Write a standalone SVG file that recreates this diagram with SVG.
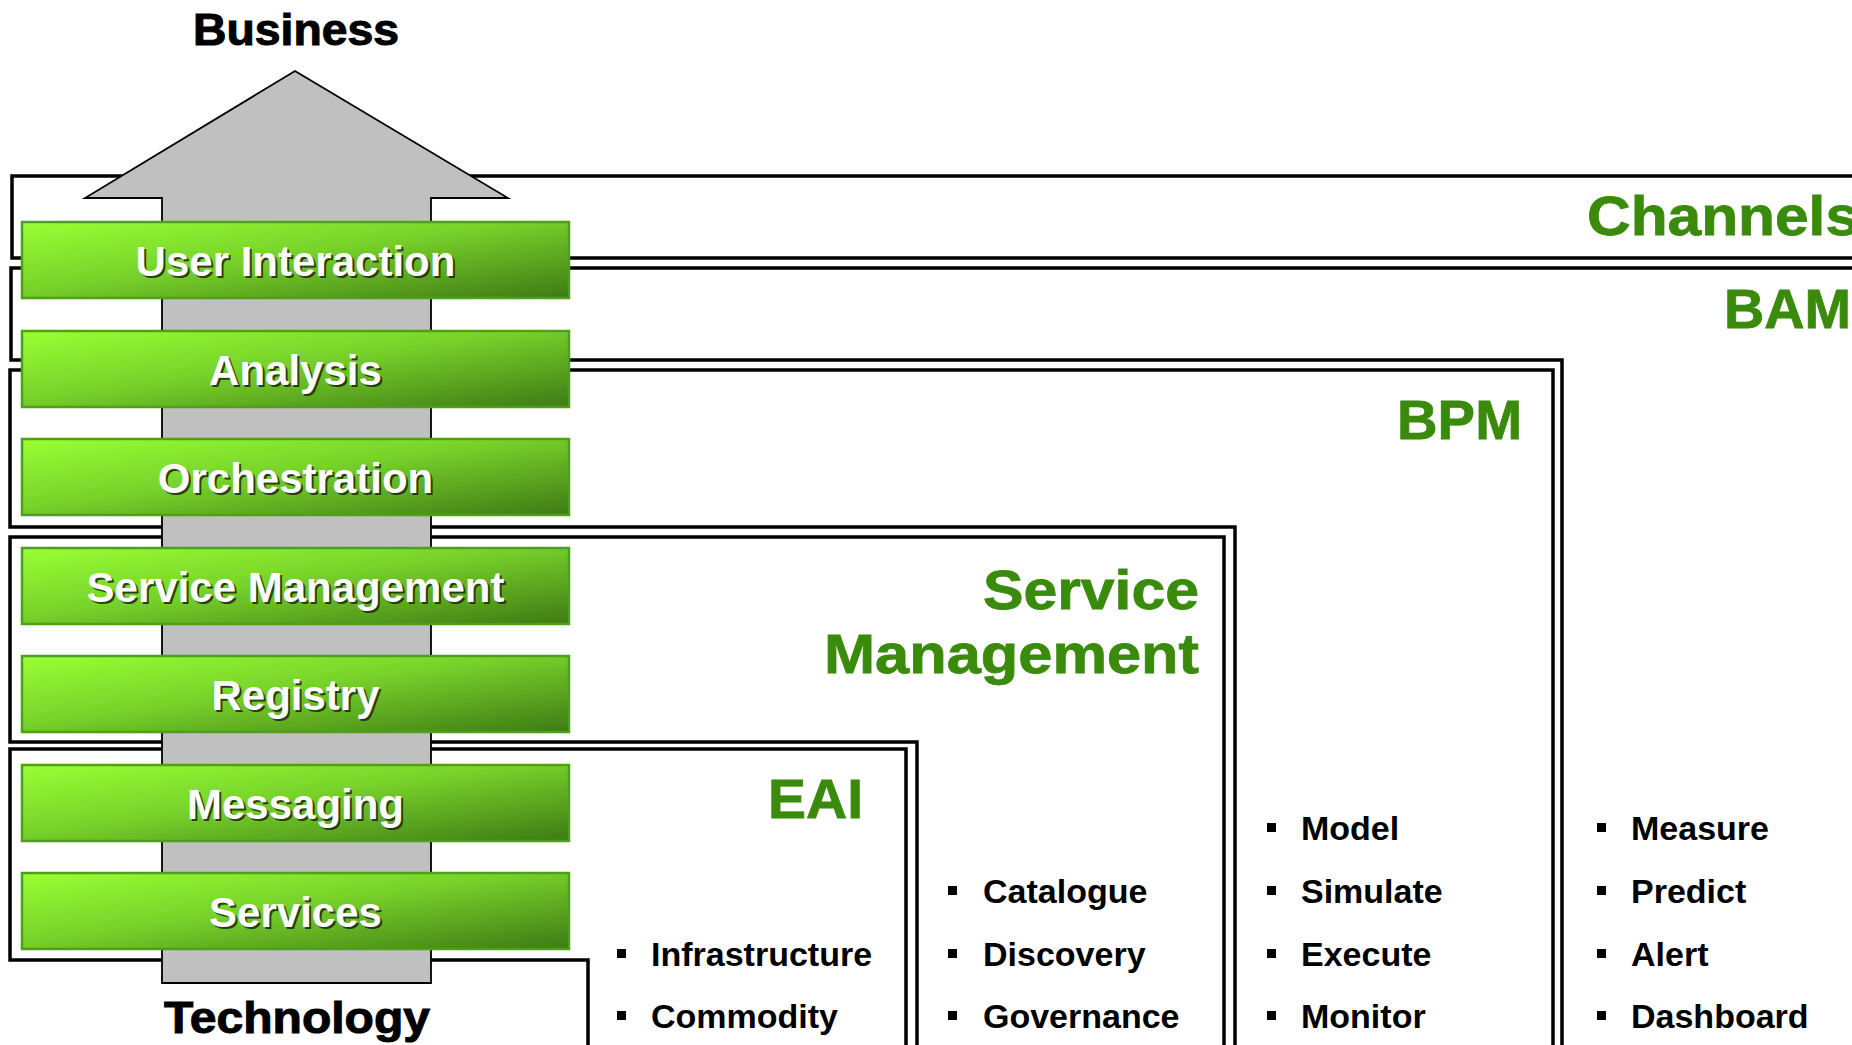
<svg xmlns="http://www.w3.org/2000/svg" width="1852" height="1045" viewBox="0 0 1852 1045">
<defs>
<linearGradient id="gb" x1="0" y1="0" x2="1" y2="1">
<stop offset="0" stop-color="#99FF33"/>
<stop offset="0.45" stop-color="#78D22A"/>
<stop offset="1" stop-color="#3F7A14"/>
</linearGradient>
<style>
.fr{fill:none;stroke:#000;stroke-width:3.5;stroke-linejoin:miter}
.box{fill:url(#gb);stroke:#4E9F1A;stroke-width:2.5}
.bt{font-family:"Liberation Sans",Arial,sans-serif;font-weight:bold;font-size:42px;text-anchor:middle;fill:#fff}
.bs{font-family:"Liberation Sans",Arial,sans-serif;font-weight:bold;font-size:42px;text-anchor:middle;fill:#1a2a0a;opacity:0.85}
.lab{font-family:"Liberation Sans",Arial,sans-serif;font-weight:bold;font-size:56px;fill:#3A8A0C;text-anchor:end;stroke:#3A8A0C;stroke-width:0.8}
.ttl{font-family:"Liberation Sans",Arial,sans-serif;font-weight:bold;font-size:44px;fill:#000;text-anchor:middle;stroke:#000;stroke-width:1}
.li{font-family:"Liberation Sans",Arial,sans-serif;font-weight:bold;font-size:34px;fill:#000}
.bul{fill:#000}
</style>
</defs>
<rect width="1852" height="1045" fill="#fff"/>

<g id="frames">
<g id="frame-channels"><path class="fr" d="M1860 176 H12 V258 H1860"/></g>
<g id="frame-bam"><path class="fr" d="M1860 268 H11 V360 H1562 V1050"/></g>
<g id="frame-bpm"><path class="fr" d="M1553 1050 V370 H10 V527 H1235 V1050"/></g>
<g id="frame-sm"><path class="fr" d="M1224 1050 V537 H10 V742 H917 V1050"/></g>
<g id="frame-eai"><path class="fr" d="M906 1050 V749 H10 V960 H588 V1050"/></g>
</g>

<g id="arrow">
<polygon points="295,71 508,198 431,198 431,983 162,983 162,198 85,198" fill="#C0C0C0" stroke="#000" stroke-width="1.8" stroke-linejoin="miter"/>
</g>

<g id="connectors"></g>

<g id="node-user-interaction">
<rect class="box" x="22" y="222" width="547" height="76"/>
<text class="bs" x="297.5" y="278">User Interaction</text>
<text class="bt" x="295.5" y="276">User Interaction</text>
</g>
<g id="node-analysis">
<rect class="box" x="22" y="331" width="547" height="76"/>
<text class="bs" x="297.5" y="387">Analysis</text>
<text class="bt" x="295.5" y="385">Analysis</text>
</g>
<g id="node-orchestration">
<rect class="box" x="22" y="439" width="547" height="76"/>
<text class="bs" x="297.5" y="495">Orchestration</text>
<text class="bt" x="295.5" y="493">Orchestration</text>
</g>
<g id="node-service-management">
<rect class="box" x="22" y="548" width="547" height="76"/>
<text class="bs" x="297.5" y="604">Service Management</text>
<text class="bt" x="295.5" y="602">Service Management</text>
</g>
<g id="node-registry">
<rect class="box" x="22" y="656" width="547" height="76"/>
<text class="bs" x="297.5" y="712">Registry</text>
<text class="bt" x="295.5" y="710">Registry</text>
</g>
<g id="node-messaging">
<rect class="box" x="22" y="765" width="547" height="76"/>
<text class="bs" x="297.5" y="821">Messaging</text>
<text class="bt" x="295.5" y="819">Messaging</text>
</g>
<g id="node-services">
<rect class="box" x="22" y="873" width="547" height="76"/>
<text class="bs" x="297.5" y="929">Services</text>
<text class="bt" x="295.5" y="927">Services</text>
</g>

<g id="titles">
<text class="ttl" x="296" y="45" textLength="206" lengthAdjust="spacingAndGlyphs">Business</text>
<text class="ttl" x="297" y="1033" textLength="266" lengthAdjust="spacingAndGlyphs">Technology</text>
</g>

<g id="labels">
<text class="lab" x="1587" y="235" style="text-anchor:start" textLength="272" lengthAdjust="spacingAndGlyphs">Channels</text>
<text class="lab" x="1851" y="328" textLength="127" lengthAdjust="spacingAndGlyphs">BAM</text>
<text class="lab" x="1522" y="439" textLength="125" lengthAdjust="spacingAndGlyphs">BPM</text>
<text class="lab" x="1199" y="609" textLength="216" lengthAdjust="spacingAndGlyphs">Service</text>
<text class="lab" x="1199" y="673" textLength="375" lengthAdjust="spacingAndGlyphs">Management</text>
<text class="lab" x="863" y="818" textLength="95" lengthAdjust="spacingAndGlyphs">EAI</text>
</g>

<g id="list-eai">
<rect class="bul" x="617" y="949" width="9" height="9"/><text class="li" x="651" y="966">Infrastructure</text>
<rect class="bul" x="617" y="1011" width="9" height="9"/><text class="li" x="651" y="1028">Commodity</text>
</g>
<g id="list-sm">
<rect class="bul" x="948" y="886" width="9" height="9"/><text class="li" x="983" y="903">Catalogue</text>
<rect class="bul" x="948" y="949" width="9" height="9"/><text class="li" x="983" y="966">Discovery</text>
<rect class="bul" x="948" y="1011" width="9" height="9"/><text class="li" x="983" y="1028">Governance</text>
</g>
<g id="list-bpm">
<rect class="bul" x="1267" y="823" width="9" height="9"/><text class="li" x="1301" y="840">Model</text>
<rect class="bul" x="1267" y="886" width="9" height="9"/><text class="li" x="1301" y="903">Simulate</text>
<rect class="bul" x="1267" y="949" width="9" height="9"/><text class="li" x="1301" y="966">Execute</text>
<rect class="bul" x="1267" y="1011" width="9" height="9"/><text class="li" x="1301" y="1028">Monitor</text>
</g>
<g id="list-bam">
<rect class="bul" x="1597" y="823" width="9" height="9"/><text class="li" x="1631" y="840">Measure</text>
<rect class="bul" x="1597" y="886" width="9" height="9"/><text class="li" x="1631" y="903">Predict</text>
<rect class="bul" x="1597" y="949" width="9" height="9"/><text class="li" x="1631" y="966">Alert</text>
<rect class="bul" x="1597" y="1011" width="9" height="9"/><text class="li" x="1631" y="1028">Dashboard</text>
</g>
</svg>
